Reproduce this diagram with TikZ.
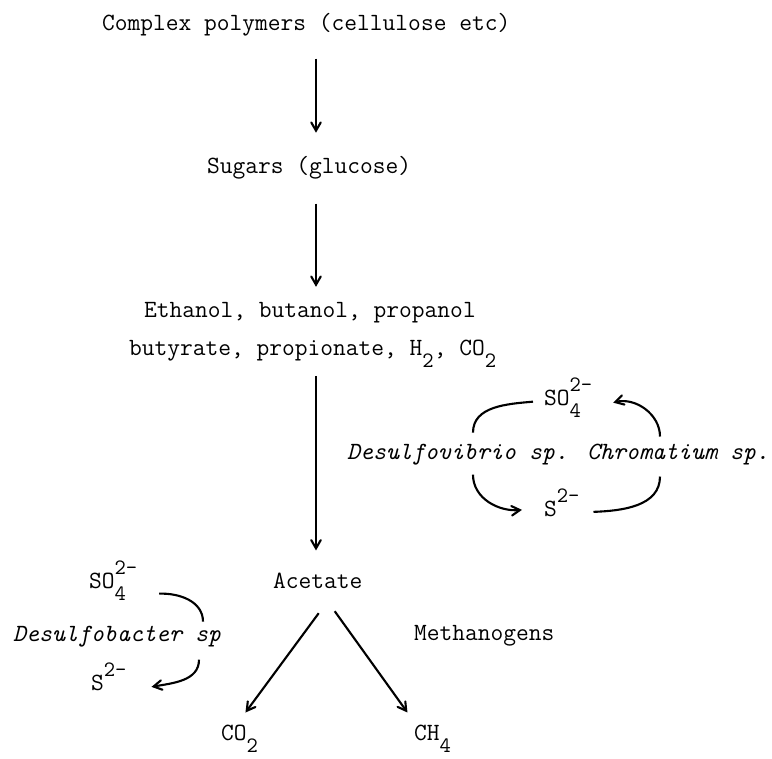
\documentclass[tikz,border=0pt]{standalone}
\usepackage{fontspec}
\usetikzlibrary{calc,arrows}

%% small figures for the charges and indices
\newcommand\chemsize{\fontsize{12.5}{13}\selectfont}
\newcommand\lo[1]{\raisebox{-.48em}{\chemsize #1}}
\newcommand\hi[1]{\raisebox{.6em}{\chemsize #1}}

\begin{document}
\begin{tikzpicture}[x=0.02cm,y=-0.02cm,line width=1.2pt,>=angle 60,
    chem/.style={anchor=base west,inner sep=0pt,font=\fontsize{14.1}{16}\ttfamily},
    bug/.style={chem,font=\fontsize{14.1}{16}\ttfamily\itshape},
    flow/.style={->}]
  \useasboundingbox (0,0) rectangle (772,759);

  %%%% The main chain %%%%
  \node[chem] (cpx) at (101,31) {Complex polymers (cellulose etc)};
  \node[chem] (sug) at (206,174) {Sugars (glucose)};
  \node[chem] (eth) at (143,318) {Ethanol, butanol, propanol};
  \node[chem] (but) at (128,356) {butyrate, propionate, H\lo{2}, CO\lo{2}};
  \node[chem] (ace) at (272,589) {Acetate};
  \node[chem] (co2) at (220,741) {CO\lo{2}};
  \node[chem] (ch4) at (413,741) {CH\lo{4}};
  \node[chem] (meth) at (413,641) {Methanogens};

  %% Vertical arrows all on the same line
  \coordinate (axis) at (316,0);
  \foreach \a/\b/\s/\e in {cpx/sug/0.42/0.46,sug/eth/0.46/0.3,but/ace/0.14/0.44}{
    \draw[flow,shorten <=\s cm,shorten >=\e cm] (\a.south -| axis) -- (\b.north -| axis);
  }
  \draw[flow] ($(ace.south)+(1,23)$) -- ($(co2.north)+(6,-12)$);
  \draw[flow] ($(ace.south)+(17,21)$) -- ($(ch4.north)+(-25,-12)$);

  %%%% Sulphur cycle on the right %%%%
  \node[chem] (so4r) at (543,406) {SO\rlap{\lo{4}}\hi{2-}};
  \node[chem] (s2r) at (543,517) {S\hi{2-}};
  \node[bug] (dvib) at (346,460) {Desulfovibrio sp.};
  \node[bug] (chrom) at (586,460) {Chromatium sp.};

  \draw ($(so4r.west)+(-10,4)$) to[out=185,in=90] ($(dvib.north west)+(127,-11)$);
  \draw[->] ($(dvib.south west)+(127,8)$) to[out=-90,in=185] ($(s2r.west)+(-21,7)$);
  \draw ($(s2r.east)+(13,9)$) to[out=2,in=-90] ($(chrom.south west)+(74,10)$);
  \draw[->] ($(chrom.north west)+(74,-7)$) to[out=90,in=15] ($(so4r.east)+(20,5)$);

  %%%% Sulphur cycle on the left %%%%
  \node[chem] (so4l) at (88,589) {SO\rlap{\lo{4}}\hi{2-}};
  \node[chem] (s2l) at (90,691) {S\hi{2-}};
  \node[bug] (dbac) at (12,642) {Desulfobacter sp};

  \draw ($(so4l.east)+(21,13)$) to[out=2,in=90] ($(dbac.north west)+(191,-4)$);
  \draw[->] ($(dbac.south west)+(187,11)$) to[out=-90,in=10] ($(s2l.east)+(24,10)$);

\end{tikzpicture}
\end{document}
